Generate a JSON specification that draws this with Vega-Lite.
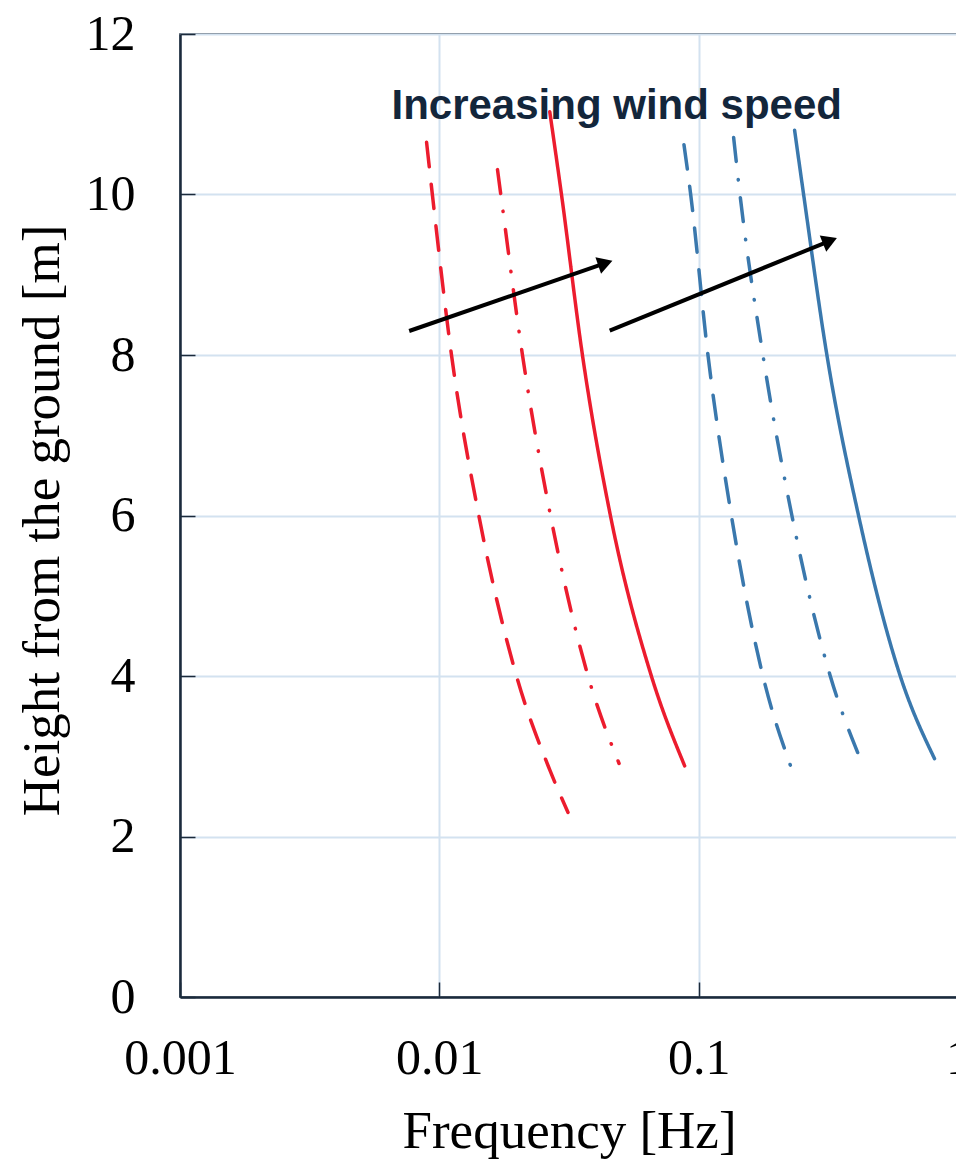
{
  "$schema": "https://vega.github.io/schema/vega-lite/v6.json",
  "width": 778,
  "height": 963,
  "autosize": {"type": "none"},
  "padding": {"left": 180, "top": 34, "right": 0, "bottom": 162},
  "background": "white",
  "config": {
    "view": {"stroke": "#1b2a3b", "strokeWidth": 1.5},
    "axis": {
      "grid": true,
      "gridColor": "#d3e2f0",
      "gridWidth": 2,
      "tickSize": -15,
      "tickColor": "#1b2a3b",
      "tickWidth": 1.5,
      "domainColor": "#1b2a3b",
      "domainWidth": 2.5,
      "labelFont": "Liberation Serif",
      "labelFontSize": 50,
      "labelColor": "black",
      "titleFont": "Liberation Serif",
      "titleFontSize": 53,
      "titleFontWeight": "normal",
      "titleColor": "black"
    }
  },
  "datasets": {
    "curves": [
      {"group": "A", "speed": "low", "freq": 0.00893, "height": 10.65},
      {"group": "A", "speed": "low", "freq": 0.0094, "height": 10},
      {"group": "A", "speed": "low", "freq": 0.01114, "height": 8},
      {"group": "A", "speed": "low", "freq": 0.0142, "height": 6},
      {"group": "A", "speed": "low", "freq": 0.01984, "height": 4},
      {"group": "A", "speed": "low", "freq": 0.02666, "height": 2.83},
      {"group": "A", "speed": "low", "freq": 0.03135, "height": 2.3},
      {"group": "A", "speed": "mid", "freq": 0.01676, "height": 10.31},
      {"group": "A", "speed": "mid", "freq": 0.01726, "height": 10},
      {"group": "A", "speed": "mid", "freq": 0.02092, "height": 8},
      {"group": "A", "speed": "mid", "freq": 0.02683, "height": 6},
      {"group": "A", "speed": "mid", "freq": 0.03744, "height": 4},
      {"group": "A", "speed": "mid", "freq": 0.04932, "height": 2.91},
      {"group": "A", "speed": "high", "freq": 0.02666, "height": 11.03},
      {"group": "A", "speed": "high", "freq": 0.02958, "height": 10},
      {"group": "A", "speed": "high", "freq": 0.03563, "height": 8},
      {"group": "A", "speed": "high", "freq": 0.04567, "height": 6},
      {"group": "A", "speed": "high", "freq": 0.06571, "height": 4},
      {"group": "A", "speed": "high", "freq": 0.08832, "height": 2.88},
      {"group": "B", "speed": "low", "freq": 0.08777, "height": 10.62},
      {"group": "B", "speed": "low", "freq": 0.09316, "height": 10},
      {"group": "B", "speed": "low", "freq": 0.1086, "height": 8},
      {"group": "B", "speed": "low", "freq": 0.1337, "height": 6},
      {"group": "B", "speed": "low", "freq": 0.1769, "height": 4},
      {"group": "B", "speed": "low", "freq": 0.2256, "height": 2.89},
      {"group": "B", "speed": "mid", "freq": 0.1364, "height": 10.71},
      {"group": "B", "speed": "mid", "freq": 0.1443, "height": 10},
      {"group": "B", "speed": "mid", "freq": 0.1769, "height": 8},
      {"group": "B", "speed": "mid", "freq": 0.2288, "height": 6},
      {"group": "B", "speed": "mid", "freq": 0.3217, "height": 4},
      {"group": "B", "speed": "mid", "freq": 0.4135, "height": 3.02},
      {"group": "B", "speed": "high", "freq": 0.2344, "height": 10.8},
      {"group": "B", "speed": "high", "freq": 0.2539, "height": 10},
      {"group": "B", "speed": "high", "freq": 0.3122, "height": 8},
      {"group": "B", "speed": "high", "freq": 0.4135, "height": 6},
      {"group": "B", "speed": "high", "freq": 0.5988, "height": 4},
      {"group": "B", "speed": "high", "freq": 0.8118, "height": 2.97}
    ],
    "arrows": [
      {"arrow": "1", "freq": 0.007651, "height": 8.299},
      {"arrow": "1", "freq": 0.04366, "height": 9.145},
      {"arrow": "2", "freq": 0.04539, "height": 8.303},
      {"arrow": "2", "freq": 0.3208, "height": 9.423}
    ],
    "heads": [
      {"arrow": "1", "freq": 0.04366, "height": 9.145},
      {"arrow": "2", "freq": 0.3208, "height": 9.423}
    ],
    "notes": [
      {"label": "Increasing wind speed", "freq": 0.0483, "height": 10.94}
    ]
  },
  "encoding": {
    "x": {
      "field": "freq",
      "type": "quantitative",
      "scale": {"type": "log", "domain": [0.001, 1]},
      "axis": {
        "title": "Frequency [Hz]",
        "values": [0.001, 0.01, 0.1, 1],
        "format": "~g",
        "labelFlush": false,
        "labelPadding": 51,
        "titleY": 150,
        "titleBaseline": "alphabetic"
      }
    },
    "y": {
      "field": "height",
      "type": "quantitative",
      "scale": {"domain": [0, 12], "nice": false},
      "axis": {
        "title": "Height from the ground [m]",
        "values": [0, 2, 4, 6, 8, 10, 12],
        "labelPadding": 60,
        "titleAngle": -90,
        "titleX": -122,
        "titleY": 486,
        "titleAlign": "center",
        "titleBaseline": "alphabetic"
      }
    }
  },
  "layer": [
    {
      "data": {"name": "notes"},
      "mark": {
        "type": "text",
        "font": "Liberation Sans",
        "fontWeight": "bold",
        "fontSize": 42,
        "align": "center",
        "baseline": "alphabetic",
        "color": "#13263b"
      },
      "encoding": {"text": {"field": "label"}}
    },
    {
      "data": {"name": "curves"},
      "mark": {"type": "line", "strokeWidth": 3.5, "strokeCap": "round", "interpolate": "monotone"},
      "encoding": {
        "color": {
          "field": "group",
          "type": "nominal",
          "scale": {"domain": ["A", "B"], "range": ["#ec1c2e", "#3a78ad"]},
          "legend": null
        },
        "strokeDash": {
          "field": "speed",
          "type": "nominal",
          "scale": {
            "domain": ["low", "mid", "high"],
            "range": [[24.5, 17.5], [24, 18, 0.5, 18], [1, 0]]
          },
          "legend": null
        },
        "detail": {"field": "group"}
      }
    },
    {
      "data": {"name": "arrows"},
      "mark": {"type": "line", "color": "black", "strokeWidth": 4},
      "encoding": {"detail": {"field": "arrow"}}
    },
    {
      "data": {"name": "heads"},
      "transform": [{"filter": "datum.arrow === '1'"}],
      "mark": {"type": "point", "shape": "triangle-right", "filled": true, "color": "black", "opacity": 1, "size": 300, "angle": 341}
    },
    {
      "data": {"name": "heads"},
      "transform": [{"filter": "datum.arrow === '2'"}],
      "mark": {"type": "point", "shape": "triangle-right", "filled": true, "color": "black", "opacity": 1, "size": 300, "angle": 338}
    }
  ]
}
